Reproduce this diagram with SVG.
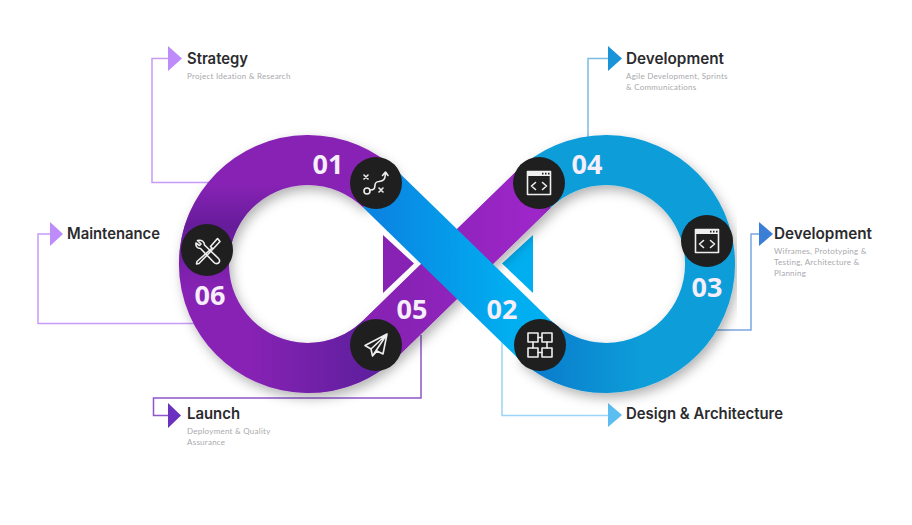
<svg xmlns="http://www.w3.org/2000/svg" width="912" height="525" viewBox="0 0 912 525">
<style>
.t{font-family:"Inter","Liberation Sans",sans-serif;font-weight:600;font-size:15.300px;fill:#2b2b2e}
.s{font-family:"Lato","Liberation Sans",sans-serif;font-size:8px;fill:#a9a9ad;letter-spacing:.25px}
.n{font-family:"Open Sans","Liberation Sans",sans-serif;font-weight:700;font-size:27px;fill:#f6eefa;text-anchor:middle}
.c{fill:none;stroke-width:1.5}
.i{fill:none;stroke:#efefef;stroke-width:1.600;stroke-linecap:round;stroke-linejoin:round}
.d{fill:#1f1f1f}
.b{fill:none;stroke-width:50}
</style>
<defs>
<filter id="sh" x="-15%" y="-20%" width="130%" height="140%"><feDropShadow dx="3" dy="5" stdDeviation="6" flood-color="#000" flood-opacity=".3"/></filter>
<linearGradient id="gBand" gradientUnits="userSpaceOnUse" x1="376" y1="0" x2="510" y2="0"><stop offset="0" stop-color="#0a84e2"/><stop offset="1" stop-color="#01aef0"/></linearGradient>
<linearGradient id="gBlueLow" gradientUnits="userSpaceOnUse" x1="530" y1="0" x2="640" y2="0"><stop offset="0" stop-color="#0a7acb"/><stop offset="1" stop-color="#0a7acb" stop-opacity="0"/></linearGradient>
<linearGradient id="gPurpLow" gradientUnits="userSpaceOnUse" x1="250" y1="0" x2="370" y2="0"><stop offset="0" stop-color="#5f1f9e" stop-opacity="0"/><stop offset="1" stop-color="#5f1f9e"/></linearGradient>
<linearGradient id="gPurpLeft" gradientUnits="userSpaceOnUse" x1="0" y1="185" x2="0" y2="290"><stop offset="0" stop-color="#651c9a" stop-opacity="0"/><stop offset=".4" stop-color="#651c9a"/><stop offset="1" stop-color="#651c9a" stop-opacity="0"/></linearGradient>
<linearGradient id="gPurpCross" gradientUnits="userSpaceOnUse" x1="400" y1="0" x2="530" y2="0"><stop offset="0" stop-color="#8722b4"/><stop offset="1" stop-color="#9d26c8"/></linearGradient>
<symbol id="browser" overflow="visible"><path class="i" stroke-width="2" d="M-11.500-11.500h23v23h-23z"/><path d="M-11.500-11.500h23v4.500h-23z" fill="#efefef"/><path d="M3-10.200h1.500v1.800h-1.500zM6-10.200h1.500v1.800h-1.500zM9-10.200h1.500v1.800h-1.500z" fill="#1f1f1f"/><path class="i" d="M-3.500-.500l-4 3.500 4 3.500M3.500-.500l4 3.500-4 3.500" stroke-width="2"/></symbol>
</defs>

<g id="connectors">
<path class="c" stroke="#c79bf8" d="M168 58.500H152V182.500H215"/>
<path class="c" stroke="#c79bf8" d="M50 234H38V323.500H200"/>
<path class="c" stroke="#8f55cc" d="M168 415.500H153.500V398H421V335"/>
<path class="c" stroke="#7bbde0" d="M608 58.500H588V140"/>
<path class="c" stroke="#7aa8e0" d="M759 234H751V330H715"/>
<path class="c" stroke="#9bd4f5" d="M502 335V415.500H608"/>
<path d="M168 46L182 58.500L168 71z" fill="#bd8bfa"/>
<path d="M50 222L63 234L50 246z" fill="#bd8bfa"/>
<path d="M168 403L181 415.500L168 428z" fill="#6a30c0"/>
<path d="M608 46L622 58.500L608 71z" fill="#1a94d8"/>
<path d="M759 222L773 234L759 246z" fill="#3a7fd5"/>
<path d="M608 403L622 415L608 427z" fill="#5bbdf0"/>
</g>

<g id="infinity">
<path d="M383 235L414 263.500L383 293z" fill="#8722b4"/>
<path d="M533 235L502 263.500L533 293z" fill="#01aef0"/>
<path class="b" stroke="#8722b4" filter="url(#sh)" d="M533.400 189.600L380.600 338.400A104 104 0 1 1 380.600 189.600"/>
<path class="b" stroke="url(#gPurpCross)" d="M533.400 189.600L380.600 338.400"/>
<path class="b" stroke="url(#gPurpLow)" d="M380.600 338.400A104 104 0 0 1 204 264"/>
<path class="b" stroke="url(#gPurpLeft)" d="M214.700 310A104 104 0 0 1 308 160"/>
<path class="b" stroke="#0d9dd9" filter="url(#sh)" d="M533.400 338.400A104 104 0 1 0 533.400 189.600"/>
<path class="b" stroke="url(#gBand)" d="M380.600 189.600L533.400 338.400"/>
<path class="b" stroke="url(#gBlueLow)" d="M533.400 338.400A104 104 0 0 0 710 264"/>
</g>

<g id="node-strategy">
<circle class="d" cx="376" cy="183" r="26"/>
<g class="i"><circle cx="367" cy="191" r="3"/><path d="M370 190c9 0 1-8 9-8.500 5-.5 6-2 6.500-8M382.500 175.500l3-3.500 2.500 3.500M364 175l4 4M368 175l-4 4M379 188l4 4M383 188l-4 4"/></g>
<text class="t" x="187" y="64" textLength="61" lengthAdjust="spacingAndGlyphs">Strategy</text>
<text class="s" x="187" y="79">Project Ideation &amp; Research</text>
<text class="n" x="328" y="174">01</text>
</g>

<g id="node-design">
<circle class="d" cx="540" cy="345" r="26"/>
<g class="i"><rect x="528" y="333" width="10" height="9"/><rect x="542" y="333" width="10" height="9"/><rect x="528" y="348" width="10" height="9"/><rect x="542" y="348" width="10" height="9"/><path d="M538 337.500h4M538 352.500h4M533 342v6M547 342v6"/></g>
<text class="t" x="626" y="419" textLength="157" lengthAdjust="spacingAndGlyphs">Design &amp; Architecture</text>
<text class="n" x="502" y="319">02</text>
</g>

<g id="node-wireframes">
<circle class="d" cx="707" cy="241" r="26"/>
<use href="#browser" x="707" y="241"/>
<text class="t" x="774" y="239">Development</text>
<text class="s" x="774" y="254">Wiframes, Prototyping &amp;</text>
<text class="s" x="774" y="265">Testing, Architecture &amp;</text>
<text class="s" x="774" y="276">Planning</text>
<text class="n" x="707" y="297">03</text>
</g>

<g id="node-development">
<circle class="d" cx="539" cy="183" r="26"/>
<use href="#browser" x="539" y="183"/>
<text class="t" x="626" y="64">Development</text>
<text class="s" x="626" y="79">Agile Development, Sprints</text>
<text class="s" x="626" y="90">&amp; Communications</text>
<text class="n" x="587" y="174">04</text>
</g>

<g id="node-launch">
<circle class="d" cx="376" cy="345" r="26"/>
<path class="i" d="M387 334L365 345.500L371 349L372.500 356L377 351L383 354zM387 334L371 349M387 334L372.500 356"/>
<text class="t" x="187" y="419" textLength="53" lengthAdjust="spacingAndGlyphs">Launch</text>
<text class="s" x="187" y="434">Deployment &amp; Quality</text>
<text class="s" x="187" y="445">Assurance</text>
<text class="n" x="412" y="319">05</text>
</g>

<g id="node-maintenance">
<circle class="d" cx="207" cy="250" r="26"/>
<g class="i"><path d="M197.500 240.500l3.500 3.500-1.500 1.500-3.500-2.500c-.5 3 1 5.500 4.500 5.500l13.500 14c1.500 1.500 4 1.500 5 0s.5-3-.5-4l-14-13.500c0-3.500-3-5.500-7-4.500z"/><path d="M217.500 238.500l2.500 3-7 7.500-2.500-2.500zM211 249l-14 12.500-.5 2.500 2.500-.5 13-13.500"/></g>
<text class="t" x="67" y="239" textLength="93" lengthAdjust="spacingAndGlyphs">Maintenance</text>
<text class="n" x="210" y="305">06</text>
</g>
</svg>
